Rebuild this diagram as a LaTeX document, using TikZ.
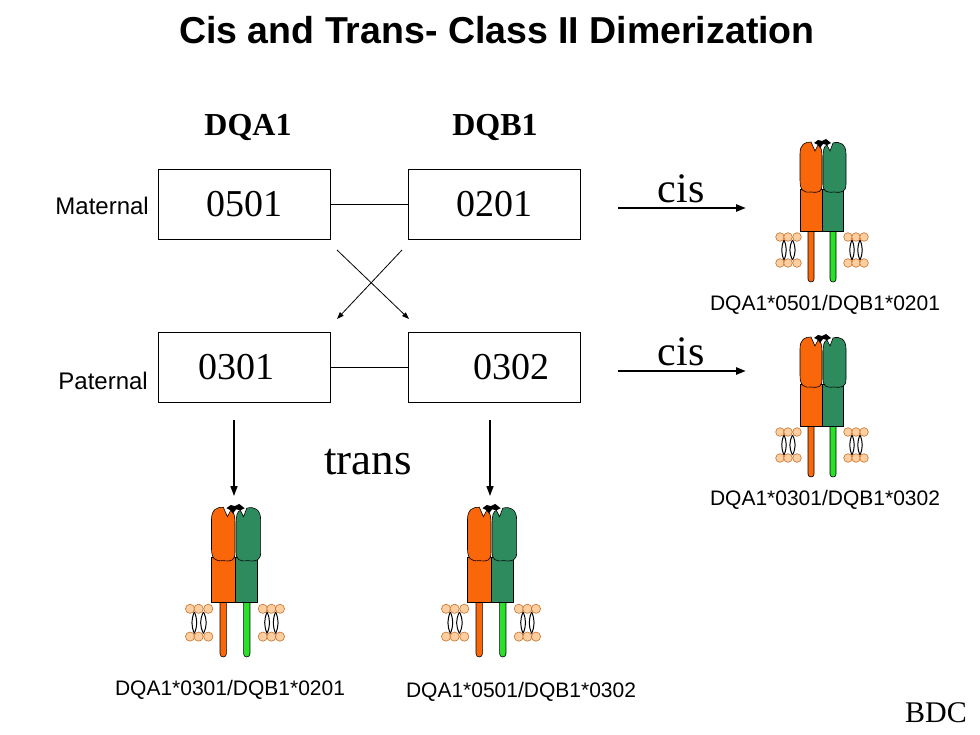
\documentclass[tikz,border=0pt]{standalone}
\usepackage{fontspec}
\setmainfont{Liberation Serif}
\newfontfamily\arialfont{Liberation Sans}
\usetikzlibrary{arrows.meta}
\definecolor{achain}{RGB}{250,102,10}
\definecolor{bchain}{RGB}{46,139,94}
\definecolor{btail}{RGB}{40,225,40}
\definecolor{headfill}{RGB}{252,206,160}
\definecolor{headdraw}{RGB}{200,112,40}
\tikzset{
  mhc/.pic={
    % membrane
    \foreach \la/\lb in {-42/-34,-34/-25,26/34,34/42}{
      \draw[line width=1pt] ({(\la+\lb)/2},100) .. controls (\la+1,107) and (\la+1,113) .. ({(\la+\lb)/2},120);
      \draw[line width=1pt] ({(\la+\lb)/2},100) .. controls (\lb-1,107) and (\lb-1,113) .. ({(\la+\lb)/2},120);
    }
    \foreach \lx in {-42,-34,-25,26,34,42}{
      \filldraw[fill=headfill,draw=headdraw,line width=0.6pt] (\lx,97) circle (4.3pt);
      \filldraw[fill=headfill,draw=headdraw,line width=0.6pt] (\lx,123) circle (4.3pt);
    }
    % tails
    \filldraw[fill=achain,draw=black,line width=0.6pt] (-14,91) -- (-14,139) .. controls (-14,143) and (-8,143) .. (-8,139) -- (-8,91) -- cycle;
    \filldraw[fill=btail,draw=black,line width=0.6pt] (8,91) -- (8,139) .. controls (8,143) and (14,143) .. (14,139) -- (14,91) -- cycle;
    % blocks
    \filldraw[fill=achain,draw=black,line width=0.6pt] (-22,49) rectangle (0,91);
    \filldraw[fill=bchain,draw=black,line width=0.6pt] (0,49) rectangle (21,91);
    % lobes
    \filldraw[fill=achain,draw=black,line width=0.6pt] (-22,40) -- (-22,14) .. controls (-22,4) and (-17,2) .. (-11,2) -- (-7,11) -- (-4,5) .. controls (-1,6) and (0,10) .. (0,18) -- (0,44) .. controls (0,52) and (-3,53) .. (-11,52) .. controls (-19,53) and (-22,50) .. (-22,40) -- cycle;
    \filldraw[fill=bchain,draw=black,line width=0.6pt] (1,18) .. controls (1,10) and (2,6) .. (5,5) -- (8,11) -- (11,3) .. controls (18,1) and (24,4) .. (24,14) -- (24,44) .. controls (24,52) and (20,53) .. (12,52) .. controls (4,53) and (1,51) .. (1,44) -- cycle;
    % peptide
    \fill[black] (-8,3) -- (-4,0) -- (0,1) -- (4,-1) -- (9,3) -- (5,5) -- (1,4) -- (-2,8) -- (-4,5) -- cycle;
  }
}
\begin{document}
\begin{tikzpicture}[x=1pt,y=-1pt]
\tikzset{gene/.style={draw,rectangle,line width=0.6pt,minimum width=172pt,minimum height=70pt,inner sep=0pt,font=\fontsize{38}{40}\selectfont}}
\tikzstyle{cross}=[-{Triangle[length=7pt,width=5pt]},line width=0.8pt]
\tikzstyle{down}=[-{Triangle[length=10pt,width=7pt]},line width=1.6pt]
\tikzstyle{cisarrow}=[-{Triangle[length=10pt,width=7pt]},line width=2.4pt]
\tikzstyle{lab}=[font=\arialfont\fontsize{21}{24}\selectfont]
\tikzstyle{parent}=[font=\arialfont\fontsize{24}{26}\selectfont,anchor=east,inner sep=0pt]
\useasboundingbox (0,0) rectangle (980,735);
\node (title)at(497,30){\arialfont\bfseries\fontsize{37.5}{40}\selectfont Cis and Trans- Class II Dimerization};
\node[font=\bfseries\fontsize{32}{34}\selectfont] (dqa)at(248,128){DQA1};
\node[font=\bfseries\fontsize{32}{34}\selectfont] (dqb)at(495,128){DQB1};
\node[parent] (mat)at(149,206){Maternal};
\node[parent] (pat)at(148,381){Paternal};
\node[gene] (ma)at(244,204){0501};
\node[gene] (mb)at(494,204){0201};
\node[gene] (pa)at(244,367){0301\hspace*{16pt}};
\node[gene] (pb)at(494,367){\hspace*{34pt}0302};
\draw[line width=0.6pt] (ma)--(mb);
\draw[line width=0.6pt] (pa)--(pb);
\coordinate (xa)at(337,250);
\coordinate (xb)at(402,250);
\coordinate (xc)at(409,319);
\coordinate (xd)at(337,319);
\draw[cross] (xa)--(xc);
\draw[cross] (xb)--(xd);
\coordinate (da)at(234,420);
\coordinate (db)at(234,496);
\coordinate (dc)at(490,420);
\coordinate (dd)at(490,496);
\draw[down] (da)--(db);
\draw[down] (dc)--(dd);
\node[font=\fontsize{45}{48}\selectfont] (trans)at(368,462){trans};
\coordinate (ca)at(618,208);
\coordinate (cb)at(746,208);
\coordinate (cc)at(618,371);
\coordinate (cd)at(746,371);
\draw[cisarrow] (ca)--(cb);
\draw[cisarrow] (cc)--(cd);
\node[font=\fontsize{42}{44}\selectfont,anchor=base,inner sep=0pt] (cis1)at(681,203){cis};
\node[font=\fontsize{42}{44}\selectfont,anchor=base,inner sep=0pt] (cis2)at(681,366){cis};
\pic at (822,140) {mhc};
\pic at (822,335) {mhc};
\pic[scale=1.07] at (235,505) {mhc};
\pic[scale=1.07] at (491,505) {mhc};
\node[lab] (l1)at(825,305){DQA1*0501/DQB1*0201};
\node[lab] (l2)at(825,500){DQA1*0301/DQB1*0302};
\node[lab] (l3)at(230,690){DQA1*0301/DQB1*0201};
\node[lab] (l4)at(521,692){DQA1*0501/DQB1*0302};
\node[font=\fontsize{30}{32}\selectfont,anchor=base,inner sep=0pt] (bdc)at(936,722){BDC};
\end{tikzpicture}
\end{document}
